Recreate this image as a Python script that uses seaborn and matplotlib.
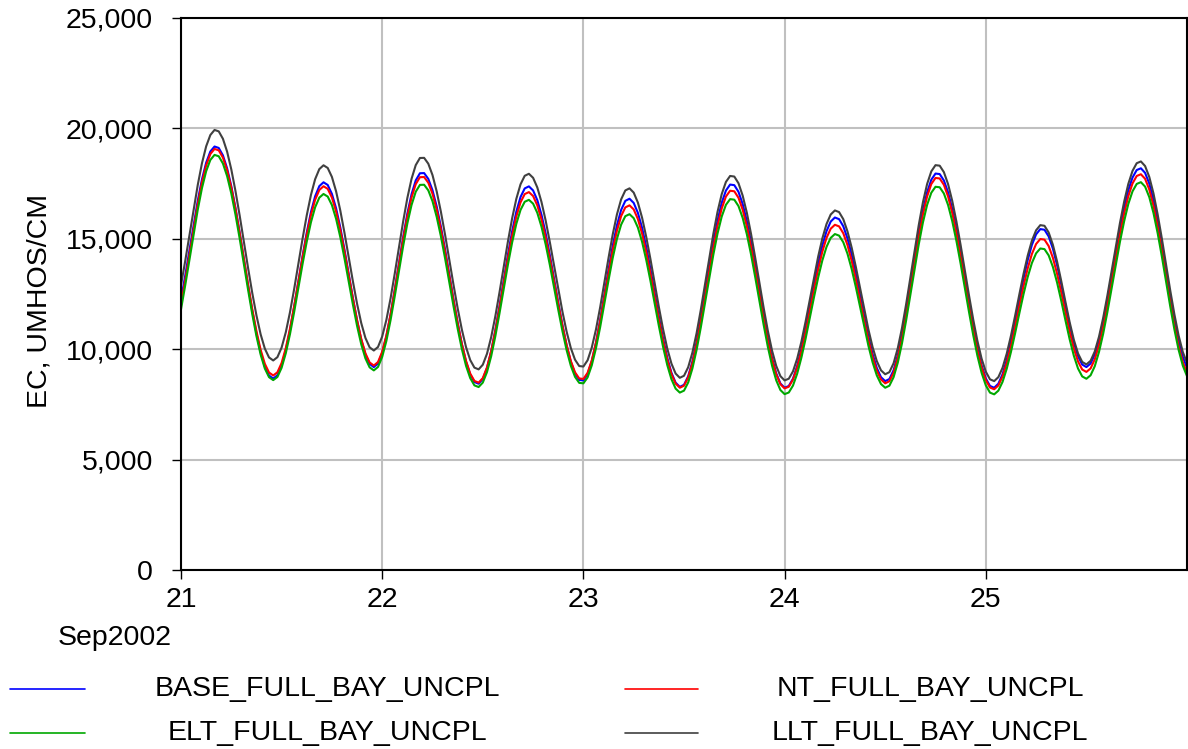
import matplotlib
matplotlib.use("Agg")
import numpy as np
import pandas as pd
import matplotlib.pyplot as plt
from matplotlib.lines import Line2D
from matplotlib.ticker import FuncFormatter
import seaborn as sns

# ------------- data: EC read every 30 min, 2002-09-21 00:00 .. 2002-09-26 00:00 -------------
series_names = ["BASE_FULL_BAY_UNCPL", "NT_FULL_BAY_UNCPL",
                "ELT_FULL_BAY_UNCPL", "LLT_FULL_BAY_UNCPL"]

base_vals = [
    12250, 13325, 14468, 15640, 16726, 17692, 18447, 18954, 19180, 19115, 18779, 18191,
    17381, 16391, 15274, 14087, 12889, 11746, 10722, 9861, 9211, 8807, 8670, 8819,
    9258, 9955, 10868, 11927, 13069, 14216, 15281, 16209, 16925, 17386, 17560, 17438,
    17035, 16382, 15519, 14507, 13419, 12325, 11308, 10430, 9758, 9335, 9190, 9353,
    9831, 10590, 11573, 12706, 13901, 15076, 16145, 17019, 17645, 17969, 17976, 17712,
    17200, 16463, 15548, 14509, 13387, 12264, 11196, 10234, 9439, 8857, 8515, 8436,
    8649, 9150, 9910, 10873, 11974, 13139, 14288, 15339, 16231, 16892, 17282, 17375,
    17190, 16753, 16089, 15239, 14251, 13186, 12110, 11086, 10174, 9429, 8896, 8608,
    8586, 8875, 9463, 10298, 11323, 12460, 13607, 14690, 15611, 16305, 16718, 16815,
    16625, 16174, 15494, 14624, 13627, 12555, 11483, 10486, 9616, 8936, 8485, 8295,
    8387, 8775, 9435, 10315, 11371, 12529, 13712, 14827, 15829, 16631, 17185, 17456,
    17430, 17128, 16570, 15795, 14842, 13765, 12639, 11526, 10491, 9601, 8909, 8448,
    8256, 8334, 8667, 9241, 10006, 10917, 11908, 12913, 13862, 14693, 15347, 15781,
    15965, 15889, 15569, 15017, 14282, 13406, 12454, 11488, 10576, 9777, 9149, 8732,
    8555, 8650, 9048, 9725, 10628, 11712, 12900, 14114, 15258, 16286, 17109, 17677,
    17955, 17932, 17641, 17103, 16345, 15415, 14358, 13229, 12098, 11022, 10059, 9262,
    8678, 8336, 8255, 8438, 8871, 9523, 10342, 11272, 12245, 13191, 14037, 14726,
    15202, 15439, 15410, 15108, 14558, 13811, 12931, 11997, 11090, 10297, 9684, 9303,
    9191, 9350, 9767, 10415, 11253, 12240, 13311, 14403, 15457, 16403, 17197, 17774,
    18114, 18194, 17988, 17500, 16762, 15818, 14737, 13574, 12411, 11330, 10386, 9648,
    9160,
]

nt_vals = [
    12020, 13113, 14276, 15469, 16573, 17556, 18324, 18840, 19070, 19007, 18678, 18104,
    17314, 16347, 15258, 14098, 12928, 11813, 10814, 9973, 9338, 8944, 8810, 8954,
    9376, 10048, 10928, 11950, 13050, 14156, 15183, 16077, 16768, 17212, 17380, 17261,
    16871, 16237, 15400, 14419, 13362, 12302, 11314, 10463, 9811, 9400, 9260, 9419,
    9883, 10620, 11576, 12676, 13837, 14979, 16018, 16867, 17475, 17791, 17797, 17539,
    17039, 16320, 15427, 14413, 13318, 12222, 11179, 10241, 9465, 8897, 8563, 8486,
    8692, 9176, 9909, 10839, 11901, 13026, 14135, 15150, 16011, 16649, 17026, 17115,
    16937, 16516, 15877, 15059, 14108, 13083, 12047, 11062, 10184, 9466, 8953, 8676,
    8654, 8931, 9492, 10290, 11269, 12355, 13451, 14485, 15365, 16028, 16422, 16515,
    16331, 15894, 15235, 14390, 13425, 12385, 11345, 10380, 9535, 8876, 8439, 8255,
    8345, 8723, 9365, 10223, 11251, 12379, 13531, 14616, 15593, 16373, 16913, 17177,
    17152, 16858, 16315, 15560, 14634, 13586, 12490, 11407, 10400, 9535, 8861, 8413,
    8225, 8301, 8621, 9173, 9908, 10784, 11736, 12702, 13614, 14413, 15041, 15458,
    15635, 15562, 15252, 14717, 14004, 13156, 12233, 11297, 10413, 9639, 9030, 8626,
    8455, 8549, 8943, 9613, 10506, 11578, 12754, 13955, 15086, 16104, 16918, 17481,
    17756, 17733, 17446, 16915, 16167, 15249, 14207, 13092, 11977, 10915, 9965, 9178,
    8602, 8264, 8185, 8358, 8769, 9386, 10162, 11042, 11965, 12861, 13662, 14315,
    14765, 14990, 14962, 14671, 14141, 13421, 12573, 11674, 10800, 10037, 9446, 9079,
    8971, 9129, 9543, 10189, 11022, 12003, 13068, 14154, 15203, 16142, 16933, 17506,
    17845, 17924, 17719, 17233, 16499, 15558, 14482, 13324, 12167, 11091, 10150, 9416,
    8930,
]

elt_vals = [
    11800, 12886, 14041, 15224, 16321, 17296, 18060, 18571, 18800, 18738, 18411, 17840,
    17054, 16093, 15010, 13857, 12694, 11585, 10592, 9756, 9125, 8733, 8600, 8742,
    9157, 9818, 10684, 11689, 12771, 13859, 14869, 15749, 16428, 16865, 17030, 16913,
    16529, 15905, 15081, 14116, 13077, 12033, 11061, 10223, 9583, 9178, 9040, 9196,
    9654, 10379, 11321, 12404, 13548, 14672, 15696, 16531, 17131, 17441, 17448, 17194,
    16702, 15994, 15116, 14117, 13040, 11962, 10936, 10012, 9249, 8690, 8362, 8286,
    8488, 8963, 9684, 10598, 11642, 12747, 13837, 14834, 15680, 16307, 16677, 16765,
    16591, 16177, 15549, 14745, 13811, 12804, 11787, 10819, 9956, 9251, 8748, 8475,
    8454, 8723, 9271, 10048, 11002, 12060, 13129, 14137, 14994, 15640, 16025, 16115,
    15935, 15508, 14863, 14037, 13092, 12075, 11058, 10113, 9287, 8642, 8215, 8035,
    8123, 8494, 9125, 9967, 10977, 12085, 13216, 14282, 15241, 16008, 16538, 16797,
    16772, 16482, 15946, 15202, 14288, 13254, 12173, 11104, 10111, 9257, 8593, 8150,
    7965, 8039, 8352, 8892, 9612, 10468, 11400, 12345, 13238, 14019, 14634, 15042,
    15215, 15144, 14844, 14325, 13634, 12812, 11918, 11010, 10153, 9403, 8812, 8421,
    8255, 8347, 8732, 9388, 10262, 11311, 12462, 13637, 14744, 15740, 16536, 17087,
    17356, 17334, 17052, 16530, 15796, 14894, 13870, 12775, 11680, 10637, 9703, 8931,
    8365, 8033, 7955, 8123, 8522, 9121, 9874, 10729, 11624, 12494, 13271, 13905,
    14343, 14561, 14533, 14248, 13729, 13023, 12192, 11310, 10454, 9705, 9126, 8767,
    8661, 8819, 9230, 9872, 10700, 11676, 12735, 13815, 14858, 15792, 16578, 17149,
    17485, 17565, 17364, 16889, 16172, 15254, 14203, 13072, 11941, 10890, 9972, 9255,
    8780,
]

llt_vals = [
    12900, 13991, 15150, 16339, 17441, 18420, 19187, 19700, 19930, 19866, 19531, 18947,
    18143, 17159, 16051, 14871, 13680, 12546, 11529, 10673, 10027, 9626, 9490, 9639,
    10074, 10767, 11675, 12729, 13864, 15004, 16063, 16986, 17699, 18157, 18330, 18208,
    17804, 17149, 16284, 15270, 14179, 13083, 12063, 11183, 10510, 10085, 9940, 10102,
    10577, 11330, 12307, 13432, 14619, 15786, 16848, 17715, 18337, 18660, 18666, 18401,
    17886, 17146, 16228, 15184, 14057, 12930, 11857, 10891, 10093, 9509, 9166, 9086,
    9297, 9794, 10547, 11502, 12593, 13747, 14885, 15928, 16811, 17467, 17853, 17945,
    17762, 17327, 16668, 15823, 14842, 13785, 12716, 11699, 10793, 10053, 9524, 9237,
    9215, 9499, 10075, 10894, 11899, 13014, 14139, 15201, 16104, 16785, 17190, 17285,
    17093, 16640, 15955, 15078, 14075, 12995, 11915, 10912, 10035, 9350, 8897, 8705,
    8797, 9184, 9843, 10721, 11775, 12930, 14110, 15223, 16223, 17023, 17576, 17846,
    17820, 17516, 16954, 16174, 15215, 14131, 12997, 11877, 10836, 9940, 9243, 8780,
    8586, 8664, 8996, 9570, 10334, 11244, 12233, 13237, 14185, 15015, 15668, 16101,
    16285, 16209, 15889, 15336, 14600, 13723, 12770, 11802, 10888, 10089, 9460, 9042,
    8865, 8961, 9362, 10044, 10954, 12045, 13242, 14465, 15617, 16654, 17482, 18055,
    18335, 18312, 18019, 17476, 16712, 15774, 14709, 13570, 12430, 11345, 10374, 9570,
    8982, 8636, 8555, 8735, 9161, 9802, 10608, 11521, 12479, 13409, 14240, 14918,
    15386, 15619, 15589, 15285, 14730, 13975, 13086, 12144, 11228, 10428, 9809, 9424,
    9311, 9474, 9899, 10561, 11417, 12424, 13518, 14633, 15710, 16675, 17486, 18075,
    18423, 18504, 18296, 17803, 17058, 16104, 15013, 13838, 12663, 11572, 10618, 9873,
    9380,
]

x_tick_labels = ["21", "22", "23", "24", "25"]
y_ticks = [0, 5000, 10000, 15000, 20000, 25000]
date_label = "Sep2002"
y_label = "EC, UMHOS/CM"

colors = {
    "BASE_FULL_BAY_UNCPL": "#0000ff",
    "NT_FULL_BAY_UNCPL": "#ff0000",
    "ELT_FULL_BAY_UNCPL": "#00a800",
    "LLT_FULL_BAY_UNCPL": "#404040",
}

# ------------- long-form frame -------------
all_vals = [base_vals, nt_vals, elt_vals, llt_vals]
n = len(llt_vals)
times = pd.date_range("2002-09-21 00:00", periods=n, freq="30min")
frames = []
for name, vals in zip(series_names, all_vals):
    frames.append(pd.DataFrame({"time": times[:len(vals)], "EC": vals, "series": name}))
df = pd.concat(frames, ignore_index=True)

# ------------- plot -------------
sns.set_theme(style="white")
plt.rcParams["font.family"] = ["Liberation Sans", "DejaVu Sans"]
plt.rcParams["text.color"] = "black"
plt.rcParams["axes.labelcolor"] = "black"
plt.rcParams["xtick.color"] = "black"
plt.rcParams["ytick.color"] = "black"

FS = 20.5
W, H = 1188, 749
fig, ax = plt.subplots(figsize=(W / 100, H / 100), dpi=100)
fig.subplots_adjust(left=181 / W, right=1187 / W, top=1 - 18 / H, bottom=1 - 570 / H)

sns.lineplot(data=df, x="time", y="EC", hue="series", hue_order=series_names,
             palette=colors, linewidth=1.5, legend=False, ax=ax,
             estimator=None, sort=False)
for ln in ax.get_lines():
    ln.set_solid_joinstyle("round")

ax.set_xlim(pd.Timestamp("2002-09-21"), pd.Timestamp("2002-09-26"))
ax.set_ylim(0, 25000)
ax.set_yticks(y_ticks)
ax.yaxis.set_major_formatter(FuncFormatter(lambda v, p: f"{v:,.0f}"))
xt = pd.date_range("2002-09-21", periods=len(x_tick_labels), freq="D")
ax.set_xticks(xt)
ax.set_xticklabels(x_tick_labels)

ax.grid(True, color="#c0c0c0", linewidth=1.5)
ax.set_axisbelow(True)
for s in ax.spines.values():
    s.set_color("black")
    s.set_linewidth(1.5)
ax.tick_params(axis="both", direction="out", length=6.5, width=1, colors="black",
               labelcolor="black", labelsize=FS, bottom=True, left=True)
ax.tick_params(axis="y", pad=13.5)
ax.tick_params(axis="x", pad=6)
ax.set_xlabel("")
ax.set_ylabel(y_label, fontsize=FS, color="black")
ax.yaxis.set_label_coords(-0.128, 0.487)

fig.text(115 / W, 1 - 638 / H, date_label, fontsize=FS, ha="center", va="center",
         color="black")

# ------------- custom legend (two columns, below the plot) -------------
legend_items = [
    ("BASE_FULL_BAY_UNCPL", 10, 85, 327, 689),
    ("ELT_FULL_BAY_UNCPL", 10, 85, 327, 733),
    ("NT_FULL_BAY_UNCPL", 625, 698, 930, 689),
    ("LLT_FULL_BAY_UNCPL", 625, 698, 930, 733),
]
for name, x0, x1, tx, y in legend_items:
    fig.add_artist(Line2D([x0 / W, x1 / W], [1 - y / H, 1 - y / H],
                          color=colors[name], linewidth=1.2,
                          transform=fig.transFigure))
    fig.text(tx / W, 1 - y / H, name, fontsize=FS, ha="center", va="center",
             color="black")

fig.savefig("out.png", dpi=100)
